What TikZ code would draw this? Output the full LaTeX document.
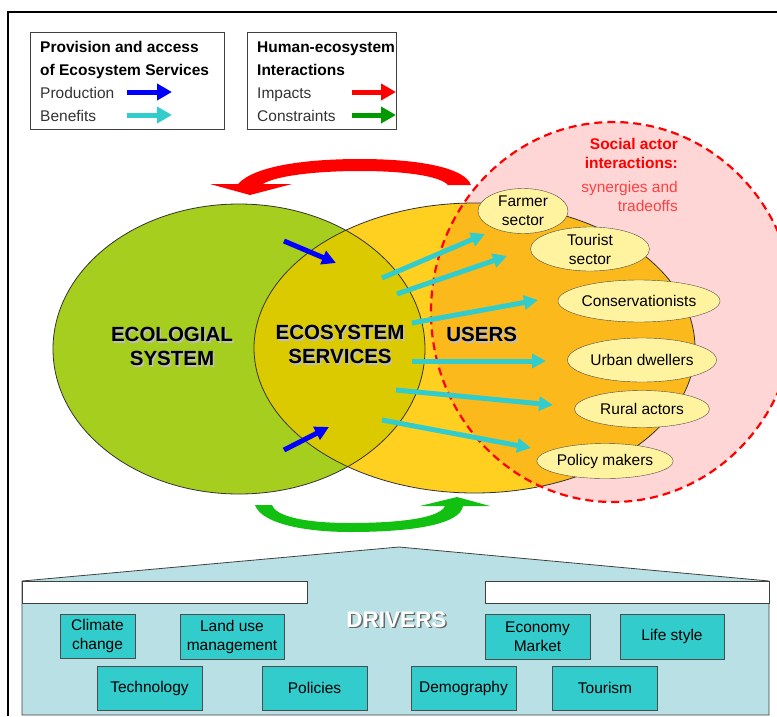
\documentclass[tikz,border=0pt]{standalone}
\usepackage{fontspec}
\setmainfont{Liberation Sans}
\usetikzlibrary{arrows.meta,shapes.geometric}

\definecolor{ecogreen}{RGB}{166,206,30}
\definecolor{esyellow}{RGB}{255,208,32}
\definecolor{esolive}{RGB}{220,202,0}
\definecolor{usrorange}{RGB}{252,185,28}
\definecolor{socpink}{RGB}{255,214,214}
\definecolor{socred}{RGB}{255,64,64}
\definecolor{actorfill}{RGB}{255,243,160}
\definecolor{drvback}{RGB}{185,224,228}
\definecolor{drvbox}{RGB}{51,204,204}
\definecolor{bencyan}{RGB}{51,204,204}
\definecolor{arrowgreen}{RGB}{17,192,17}
\definecolor{leggreen}{RGB}{0,153,0}

\newcommand\normalsz{\fontsize{15.5}{19}\selectfont}
\newcommand\bigsz{\fontsize{20.5}{24}\selectfont}

\begin{document}
\begin{tikzpicture}
  [x=1pt, y=-1pt,
   txt/.style={inner sep=0pt, font=\normalsz},
   biglabel/.style={inner sep=0pt, align=center, font=\bigsz\bfseries},
   actor/.style={ellipse, draw=black!70, fill=actorfill, inner sep=0pt, align=center, font=\normalsz},
   driver/.style={draw=black!70, fill=drvbox, inner sep=0pt, minimum width=105pt, minimum height=44pt, align=center, font=\normalsz},
   benefit/.style={draw=bencyan, line width=5pt, -{Triangle[length=14pt,width=14pt]}},
   produce/.style={draw=blue, line width=5pt, -{Triangle[length=14pt,width=14pt]}},
   legarrow/.style={line width=5pt, -{Triangle[length=15pt,width=16pt]}},
   outline/.style={draw=black!80, line width=0.8pt}]

  \useasboundingbox (0,0) rectangle (777,716);

  % frame
  \draw[line width=1.2pt] (8,716) -- (8,12) -- (777,12);

  % legend boxes
  \draw[draw=black!75, line width=0.8pt] (30,32) rectangle (224,129);
  \draw[draw=black!75, line width=0.8pt] (247,32) rectangle (396,129);

  \node[txt, anchor=base west, font=\normalsz\bfseries] (provA) at (40,52) {Provision and access};
  \node[txt, anchor=base west, font=\normalsz\bfseries] (provB) at (40,75) {of Ecosystem Services};
  \node[txt, anchor=base west, text=black!80] (prod) at (40,98) {Production};
  \node[txt, anchor=base west, text=black!80] (bene) at (40,121) {Benefits};
  \node[txt, anchor=base west, font=\normalsz\bfseries] (humA) at (257,52) {Human-ecosystem};
  \node[txt, anchor=base west, font=\normalsz\bfseries] (humB) at (257,75) {Interactions};
  \node[txt, anchor=base west, text=black!80] (impa) at (257,98) {Impacts};
  \node[txt, anchor=base west, text=black!80] (cons) at (257,121) {Constraints};

  \coordinate (lp1) at (127,92);  \coordinate (lp2) at (172,92);
  \coordinate (lb1) at (127,115); \coordinate (lb2) at (172,115);
  \coordinate (li1) at (352,92);  \coordinate (li2) at (396,92);
  \coordinate (lc1) at (352,115); \coordinate (lc2) at (396,115);
  \draw[legarrow, blue] (lp1) -- (lp2);
  \draw[legarrow, bencyan] (lb1) -- (lb2);
  \draw[legarrow, red] (li1) -- (li2);
  \draw[legarrow, leggreen] (lc1) -- (lc2);

  % the three systems
  \fill[ecogreen] (239,349) ellipse [x radius=186, y radius=145];
  \fill[esyellow] (474.5,348) ellipse [x radius=220.5, y radius=145];
  \begin{scope}
    \clip (239,349) ellipse [x radius=186, y radius=145];
    \fill[esolive] (474.5,348) ellipse [x radius=220.5, y radius=145];
  \end{scope}
  \fill[socpink] (613,312) ellipse [x radius=182, y radius=190];
  \begin{scope}
    \clip (613,312) ellipse [x radius=182, y radius=190];
    \fill[usrorange] (474.5,348) ellipse [x radius=220.5, y radius=145];
  \end{scope}
  \draw[outline] (239,349) ellipse [x radius=186, y radius=145];
  \draw[outline] (474.5,348) ellipse [x radius=220.5, y radius=145];
  \draw[red, line width=2.2pt, dash pattern=on 8pt off 5pt] (613,312) ellipse [x radius=182, y radius=190];

  % impacts and constraints
  \fill[red] (238,184) .. controls (255,165) and (310,159) .. (360,159)
    .. controls (420,159) and (465,168) .. (471,185) -- (448,185)
    .. controls (440,176) and (405,171) .. (360,171)
    .. controls (315,171) and (275,176) .. (263,184)
    -- (292,184) -- (250,195) -- (210,184) -- cycle;
  \fill[arrowgreen] (255,505) .. controls (262,525) and (310,532) .. (350,532)
    .. controls (410,532) and (460,525) .. (463,506) -- (490,506) -- (457,497)
    -- (420,506) -- (445,506) .. controls (440,518) and (400,523) .. (350,523)
    .. controls (300,523) and (275,515) .. (272,505) -- cycle;

  % production
  \coordinate (ps1) at (284,241); \coordinate (pe1) at (336,263);
  \coordinate (ps2) at (284,450); \coordinate (pe2) at (329,427);
  \draw[produce] (ps1) -- (pe1);
  \draw[produce] (ps2) -- (pe2);

  % benefits
  \coordinate (bs1) at (382,278); \coordinate (be1) at (485,234);
  \coordinate (bs2) at (397,294); \coordinate (be2) at (507,256);
  \coordinate (bs3) at (412,323); \coordinate (be3) at (538,300);
  \coordinate (bs4) at (412,361); \coordinate (be4) at (546,361);
  \coordinate (bs5) at (396,390); \coordinate (be5) at (553,405);
  \coordinate (bs6) at (382,420); \coordinate (be6) at (531,448);
  \foreach \n in {1,...,6}
    \draw[benefit] (bs\n) -- (be\n);

  % labels
  \node[biglabel, text=black!25] at (173.5,348) {ECOLOGIAL\\SYSTEM};
  \node[biglabel] (eco) at (172,346.5) {ECOLOGIAL\\SYSTEM};
  \node[biglabel, text=black!25] at (341.5,346) {ECOSYSTEM\\SERVICES};
  \node[biglabel] (ess) at (340,344.5) {ECOSYSTEM\\SERVICES};
  \node[biglabel, text=black!25] at (483.2,336) {USERS};
  \node[biglabel] (usr) at (481.7,334.5) {USERS};

  \node[txt, anchor=base east, text=red, font=\normalsz\bfseries] (socA) at (678,149) {Social actor};
  \node[txt, anchor=base east, text=red, font=\normalsz\bfseries] (socB) at (678,168) {interactions:};
  \node[txt, anchor=base east, text=socred] (socC) at (678,192) {synergies and};
  \node[txt, anchor=base east, text=socred] (socD) at (678,211) {tradeoffs};

  % social actors
  \node[actor, minimum width=90pt, minimum height=45pt] (farmer) at (523,211) {Farmer\\sector};
  \node[actor, minimum width=119pt, minimum height=44pt] (tourist) at (590,249) {Tourist\\sector};
  \node[actor, minimum width=142pt, minimum height=42pt] (conserv) at (639,301) {Conservationists};
  \node[actor, minimum width=149pt, minimum height=44pt] (urban) at (642,360) {Urban dwellers};
  \node[actor, minimum width=135pt, minimum height=37pt] (rural) at (642,409) {Rural actors};
  \node[actor, minimum width=136pt, minimum height=35pt] (policy) at (605,461) {Policy makers};

  % drivers
  \filldraw[fill=drvback, draw=black!75, line width=0.8pt]
    (22,581) -- (399,547) -- (769,581) -- (769,715) -- (22,715) -- cycle;
  \filldraw[fill=white, draw=black!75, line width=0.8pt] (22,581) rectangle (307,603);
  \filldraw[fill=white, draw=black!75, line width=0.8pt] (485,581) rectangle (769,603);
  \node[inner sep=0pt, text=black!60, font=\fontsize{22.5}{26}\selectfont\bfseries] at (398,621) {DRIVERS};
  \node[inner sep=0pt, text=white, font=\fontsize{22.5}{26}\selectfont\bfseries] (drv) at (396.5,619.5) {DRIVERS};

  \node[driver, minimum width=75pt] (climate) at (97.5,636) {Climate\\change};
  \node[driver, minimum width=104pt, minimum height=45pt] (landuse) at (232,636.5) {Land use\\management};
  \node[driver, minimum height=45pt] (economy) at (537.5,636.5) {Economy\\Market};
  \node[driver, minimum width=104pt, minimum height=45pt] (lifestyle) at (672,636.5) {Life style};
  \node[driver] (techno) at (149.5,688) {Technology};
  \node[driver] (policies) at (314.5,688) {Policies};
  \node[driver] (demog) at (463.5,688) {Demography};
  \node[driver] (tourism) at (605,688) {Tourism};
\end{tikzpicture}
\end{document}
